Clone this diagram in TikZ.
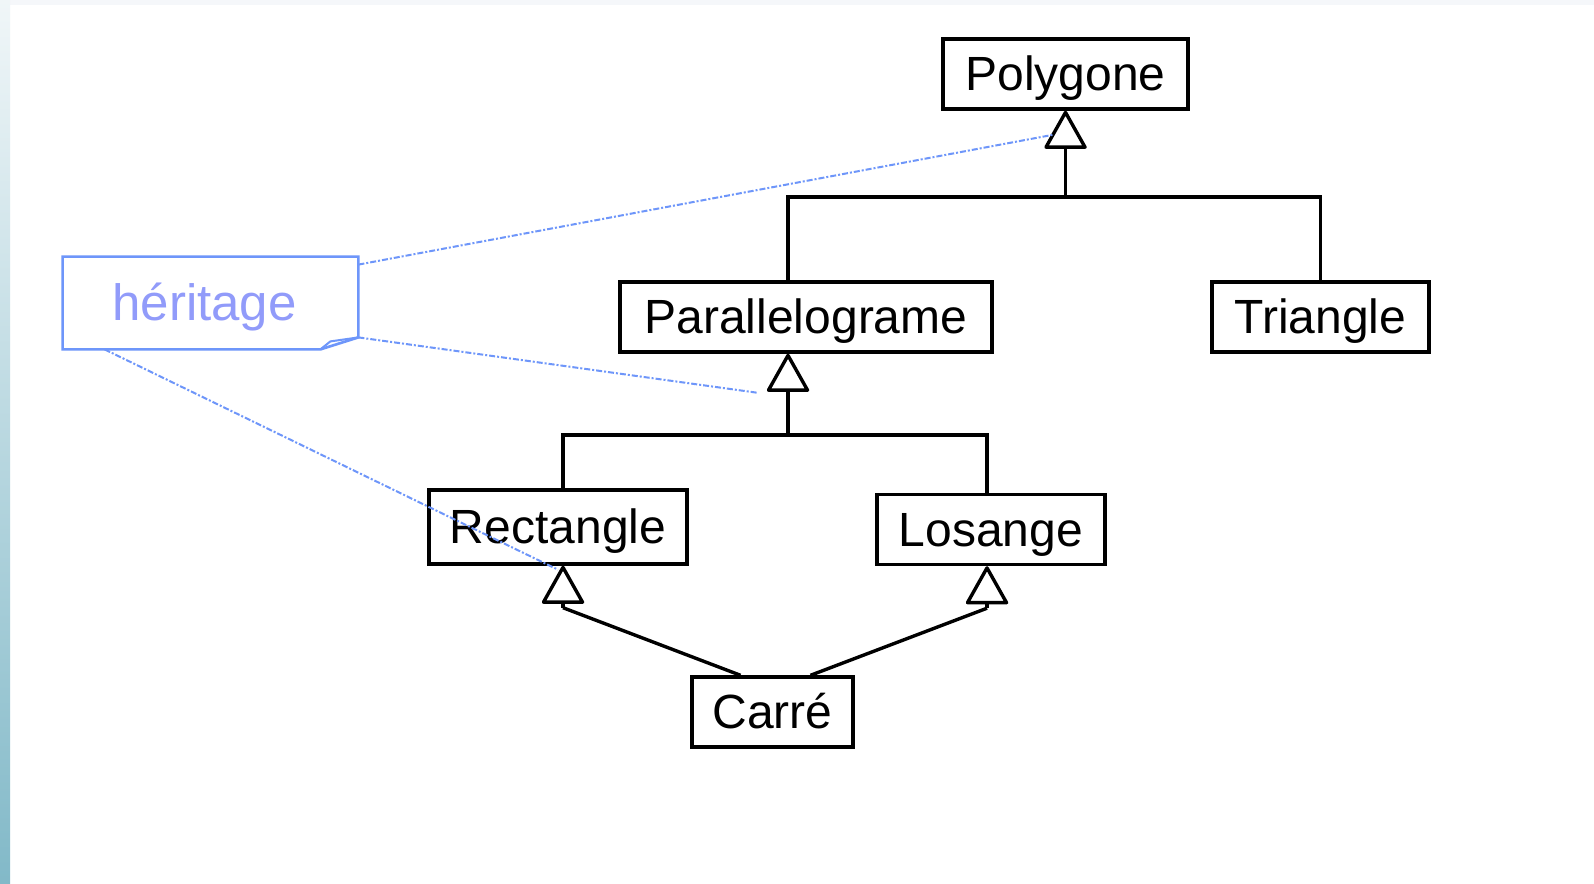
\documentclass[tikz,border=0pt]{standalone}
\usepackage{fontspec}
\setmainfont{Liberation Sans}
\usetikzlibrary{arrows.meta}
\definecolor{notebleu}{RGB}{110,150,250}
\definecolor{notetexte}{RGB}{145,155,250}
\definecolor{bordgris}{RGB}{245,247,250}
\definecolor{bordhaut}{RGB}{240,246,248}
\definecolor{bordmilieu}{RGB}{228,240,244}
\definecolor{bordbas}{RGB}{130,185,200}

\begin{document}
\begin{tikzpicture}[x=0.5pt,y=-0.5pt,
  classe/.style={draw,line width=1.7pt,inner sep=0pt,minimum height=35pt,text height=17pt,text depth=0.5pt,font=\fontsize{24}{28}\selectfont},
  lien/.style={line width=1.7pt},
  herit/.style={line width=1.7pt,-{Triangle[open,length=20pt,width=22pt,round]}},
  note/.style={inner sep=0pt,minimum width=147.5pt,minimum height=46pt,text height=18pt,text depth=0.5pt,text=notetexte,font=\fontsize{25.5}{28}\selectfont},
  pointille/.style={notebleu,line width=1pt,dash pattern=on 3pt off 1pt on 1pt off 1pt}]
\useasboundingbox (0,0) rectangle (1594,883);
\fill[white] (0,0) rectangle (1594,883);
\fill[bordgris] (0,0) rectangle (1594,5);
\shade[top color=bordhaut,middle color=bordmilieu,bottom color=bordbas] (0,0) rectangle (10,883);

\node[classe,minimum width=122.5pt] (poly) at (1065.5,74) {Polygone};
\node[classe,minimum width=186pt] (para) at (806,317) {Parallelograme};
\node[classe,minimum width=108.5pt] (tri) at (1320.5,317) {Triangle};
\node[classe,minimum width=129pt,minimum height=37pt] (rect) at (558,527) {Rectangle};
\node[classe,minimum width=114pt] (los) at (991,529.5) {Losange};
\node[classe,minimum width=80.5pt] (carre) at (772.5,712) {Carré};
\node[note] (her) at (210.5,303) {\hspace*{-6pt}héritage};

\coordinate (barre1) at (1065.5,197);
\coordinate (barre2) at (788,435);

\draw[herit] (barre1) -- (poly.south);
\draw[lien] ([xshift=-9pt]para.north) |- (barre1) -| (tri.north);
\draw[herit] (barre2) -- ([xshift=-9pt]para.south);
\draw[lien] ([xshift=2.5pt]rect.north) |- (barre2) -| ([xshift=-2pt]los.north);
\draw[herit] ([xshift=2.5pt,yshift=-21pt]rect.south) -- ([xshift=2.5pt]rect.south);
\draw[lien] ([xshift=-16pt]carre.north) -- ([xshift=2.5pt,yshift=-21pt]rect.south);
\draw[herit] ([xshift=-2pt,yshift=-21pt]los.south) -- ([xshift=-2pt]los.south);
\draw[lien] ([xshift=19pt]carre.north) -- ([xshift=-2pt,yshift=-21pt]los.south);

% note
\draw[notebleu,line width=1.3pt] (her.north west) -- (her.north east) -- ([yshift=6pt]her.south east) -- ([xshift=-19pt]her.south east) -- (her.south west) -- cycle;
\draw[notebleu,line width=1pt] ([xshift=-19pt]her.south east) -- ([xshift=-14pt,yshift=4pt]her.south east) -- ([yshift=6pt]her.south east);
\draw[pointille] ([yshift=-4pt]her.north east) -- ([xshift=-6pt,yshift=-12pt]poly.south);
\draw[pointille] ([yshift=6pt]her.south east) -- ([xshift=-24.5pt,yshift=-19.5pt]para.south);
\draw[pointille] ([xshift=21pt]her.south west) -- ([yshift=-2pt]rect.south);
\end{tikzpicture}
\end{document}
